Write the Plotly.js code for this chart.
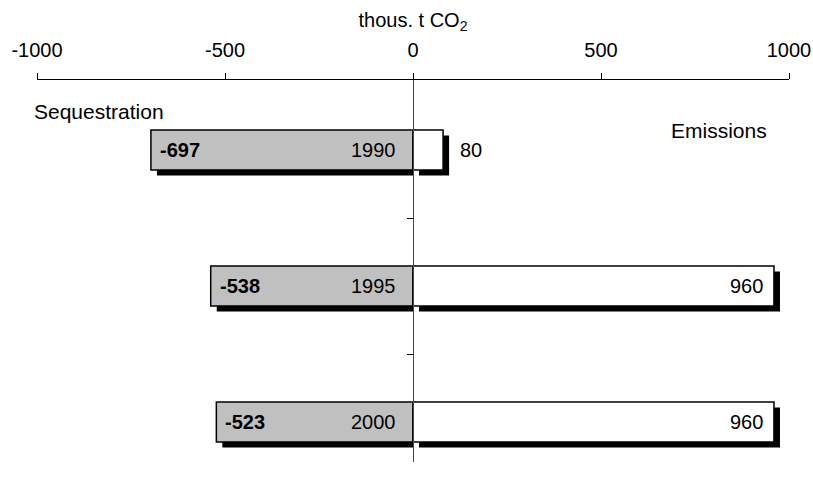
<!DOCTYPE html>
<html>
<head>
<meta charset="utf-8">
<script src="https://cdn.plot.ly/plotly-3.0.1.min.js"></script>
<style>html,body{margin:0;padding:0;background:#fff;}#chart{width:813px;height:488px;}</style>
</head>
<body>
<div id="chart"></div>
<script>
const years = ['1990', '1995', '2000'];
const sequestration = [-697, -538, -523];
const emissions = [80, 960, 960];
const xTicks = [-1000, -500, 0, 500, 1000];

const pos = years.map((_, i) => i);
const barW = 0.294;
const shX = 16;      // shadow offset in x units
const shY = 0.04;    // shadow offset in y units
const FONT = 'Liberation Sans, Arial, sans-serif';
const FS = 20;

const traces = [
  // shadows (sequestration shadow stops at the zero line)
  {type: 'bar', orientation: 'h', y: pos, x: sequestration.map(v => v + shX), base: sequestration.map(() => 0),
   width: barW, offset: -barW / 2 + shY, marker: {color: '#000', line: {width: 0}}, hoverinfo: 'skip'},
  {type: 'bar', orientation: 'h', y: pos, x: emissions, base: emissions.map(() => shX),
   width: barW, offset: -barW / 2 + shY, marker: {color: '#000', line: {width: 0}}, hoverinfo: 'skip'},
  // main bars
  {type: 'bar', orientation: 'h', y: pos, x: sequestration, base: sequestration.map(() => 0),
   width: barW, offset: -barW / 2, marker: {color: '#c0c0c0', line: {color: '#000', width: 1.5}}},
  {type: 'bar', orientation: 'h', y: pos, x: emissions, base: emissions.map(() => 0),
   width: barW, offset: -barW / 2, marker: {color: '#ffffff', line: {color: '#000', width: 1.5}}}
];

const pw = 813 - 37 - 24, ph = 488 - 80 - 26;
const annotations = [];
pos.forEach((p, i) => {
  annotations.push({x: sequestration[i], y: p, xref: 'x', yref: 'y', text: '<b>' + sequestration[i] + '</b>',
    showarrow: false, xanchor: 'left', xshift: 7, font: {size: FS, color: '#000', family: FONT}});
  annotations.push({x: 0, y: p, xref: 'x', yref: 'y', text: years[i],
    showarrow: false, xanchor: 'right', xshift: -15, font: {size: FS, color: '#000', family: FONT}});
  const inside = emissions[i] > 200;
  annotations.push({x: emissions[i], y: p, xref: 'x', yref: 'y', text: String(emissions[i]),
    showarrow: false, xanchor: inside ? 'right' : 'left', xshift: inside ? -9 : 15,
    font: {size: FS, color: '#000', family: FONT}});
});
annotations.push({x: (32 - 37) / pw, y: 1 - (111 - 80) / ph, xref: 'paper', yref: 'paper', text: 'Sequestration',
  showarrow: false, xanchor: 'left', yanchor: 'middle', font: {size: 21, color: '#000', family: FONT}});
annotations.push({x: (769 - 37) / pw, y: 1 - (130 - 80) / ph, xref: 'paper', yref: 'paper', text: 'Emissions',
  showarrow: false, xanchor: 'right', yanchor: 'middle', font: {size: 21, color: '#000', family: FONT}});

const layout = {
  width: 813, height: 488,
  margin: {l: 37, r: 24, t: 80, b: 26},
  paper_bgcolor: '#fff', plot_bgcolor: '#fff',
  barmode: 'overlay', showlegend: false,
  font: {family: FONT, size: FS, color: '#000'},
  xaxis: {
    side: 'top', range: [-1000, 1000], tickvals: xTicks, ticktext: xTicks.map(String),
    ticks: 'outside', ticklen: 6, tickcolor: '#000', showline: true, linecolor: '#000', linewidth: 1,
    showgrid: false, zeroline: false, tickfont: {size: FS}, ticklabelstandoff: 8,
    title: {text: 'thous. t CO<sub>2</sub>', font: {size: FS}, standoff: 6}
  },
  yaxis: {
    range: [2.294, -0.515], anchor: 'free', position: 0.5, showline: true, linecolor: '#444', linewidth: 1,
    tickvals: [0.5, 1.5], ticks: 'outside', ticklen: 6, tickcolor: '#000', showticklabels: false,
    showgrid: false, zeroline: false
  },
  annotations: annotations
};

Plotly.newPlot('chart', traces, layout, {displayModeBar: false, staticPlot: true});
</script>
</body>
</html>
